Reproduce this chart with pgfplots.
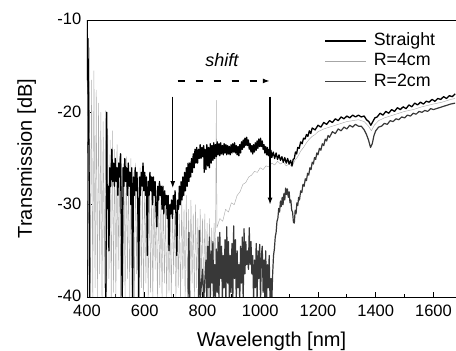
\documentclass[border=0pt]{standalone}
\usepackage{pgfplots}
\pgfplotsset{compat=1.18}
\usepackage{fontspec}
\setmainfont{Liberation Sans}
\usetikzlibrary{arrows.meta}
\begin{document}
\begin{tikzpicture}
\begin{axis}[
  name=ax,
  scale only axis,
  width=369pt, height=277pt,
  xmin=400, xmax=1678, ymin=-40, ymax=-10,
  axis x line*=box, axis y line*=left,
  x axis line style={-}, y axis line style={-},
  axis line style={line width=0.8pt},
  xtick pos=bottom, ytick pos=left,
  tick align=inside,
  xtick={400,600,...,1600},
  minor xtick={500,700,...,1700},
  ytick={-40,-30,-20,-10},
  major tick length=5pt, minor tick length=3pt,
  every tick/.style={black, line width=0.8pt},
  /pgf/number format/assume math mode=true,
  /pgf/number format/1000 sep={},
  tick label style={font=\fontsize{16.5}{18}\selectfont},
  xticklabel style={inner sep=1pt, yshift=-6.5pt},
  yticklabel style={inner sep=1pt, xshift=-4.5pt, yshift=1pt},
  label style={font=\fontsize{20}{24}\selectfont},
  xlabel={Wavelength [nm]},
  ylabel={Transmission [dB]},
  ylabel shift=17pt,
  xlabel shift=11pt,
  legend cell align=left,
  legend style={draw=none, fill=none, at={(0.6436,0.962)}, anchor=north west,
    font=\fontsize{17.8}{20}\selectfont, inner sep=0pt, row sep=0pt, column sep=5pt,
    nodes={inner sep=1.5pt, text height=13pt, text depth=4.5pt}},
  legend image code/.code={\draw[#1, line join=round] (0pt,0pt) -- (41pt,0pt);},
]
\addlegendimage{black, line width=1.6pt}
\addlegendentry{Straight}
\addlegendimage{black!35, line width=0.5pt}
\addlegendentry{R=4cm}
\addlegendimage{black!75, line width=1.0pt}
\addlegendentry{R=2cm}

% R=4cm (light gray)
\addplot[forget plot, black!32, line width=0.45pt, line join=round] coordinates {
(400,-11.0)(404,-40.5)(408,-13.0)(412,-38.5)(416,-16.5)(420,-40.5)(424,-15.5)(428,-39.0)
(432,-17.6)(436,-40.5)(440,-19.0)(444,-37.5)(448,-20.0)(452,-40.5)(456,-21.0)(460,-39.0)
(464,-19.8)(468,-40.5)(472,-22.5)(476,-38.0)(480,-23.0)(484,-40.5)(488,-22.0)(492,-39.5)
(496,-24.0)(500,-40.5)(504,-23.5)(508,-37.0)(512,-25.0)(516,-40.5)(520,-24.5)(524,-39.0)
(528,-25.5)(532,-40.5)(536,-24.8)(540,-38.0)(544,-26.0)(548,-40.5)(552,-25.0)(556,-39.5)
(560,-26.5)(564,-40.5)(568,-25.5)(572,-37.5)(576,-27.0)(580,-40.5)(584,-26.0)(588,-39.0)
(592,-27.5)(596,-40.5)(600,-26.5)(604,-38.5)(608,-28.0)(612,-40.5)(616,-27.0)(620,-39.5)
(624,-28.5)(628,-40.5)(632,-27.5)(636,-37.0)(640,-29.0)(644,-40.5)(648,-28.0)(652,-39.0)
(656,-29.5)(660,-40.5)(664,-28.5)(668,-38.5)(672,-30.0)(676,-40.5)(680,-29.0)(684,-39.5)
(688,-30.5)(692,-40.5)(696,-29.5)(700,-37.5)(704,-31.0)(708,-40.5)(712,-30.0)(716,-39.0)
(720,-31.0)(724,-40.5)(728,-29.5)(732,-38.0)(736,-30.5)(740,-40.5)(744,-29.0)(748,-39.5)
(752,-30.5)(756,-40.5)(760,-29.5)(764,-38.5)(768,-31.0)(772,-40.5)(776,-30.0)(780,-39.0)
(784,-31.5)(788,-40.5)(792,-30.5)(796,-38.0)(800,-31.5)(804,-40.5)(808,-31.0)(812,-39.5)
(816,-32.0)(820,-40.5)(824,-31.5)(828,-38.5)(832,-32.5)(836,-40.5)(840,-32.0)(844,-37.0)
(846,-30.0)(848,-18.7)(850,-32.5)(860,-31.5)(870,-31.8)(880,-30.5)(890,-30.8)(900,-29.8)
(910,-30.0)(920,-29.0)(930,-28.6)(940,-27.8)(950,-27.6)(960,-27.0)(970,-26.8)(980,-26.4)
(990,-26.5)(1000,-26.0)(1010,-26.2)(1020,-25.8)(1030,-25.9)(1040,-25.5)(1050,-25.7)
(1060,-25.3)(1070,-25.6)(1080,-25.4)(1090,-25.8)(1100,-25.6)(1110,-25.9)(1120,-25.2)
(1130,-24.8)(1140,-24.2)(1150,-23.8)(1160,-23.3)(1170,-22.9)(1180,-22.6)(1190,-22.4)
(1200,-22.1)(1220,-21.8)(1240,-21.6)(1260,-21.4)(1280,-21.2)(1300,-21.0)(1320,-20.9)
(1340,-20.8)(1360,-21.0)(1375,-21.5)(1385,-22.0)(1395,-21.4)(1410,-20.9)(1430,-20.6)
(1450,-20.4)(1480,-20.1)(1500,-19.9)(1530,-19.7)(1560,-19.4)(1600,-19.1)(1630,-18.9)
(1660,-18.6)(1675,-18.5)
};

% R=2cm (dark gray)
\addplot[forget plot, black!78, line width=1.2pt, line join=round] coordinates {
(400,-40.5)(750,-40.5)(753,-33.0)(756,-40.5)(786,-40.5)(789,-32.8)(792,-40.5)(800,-37.0)(804,-40.5)
(812,-36.0)(815,-40.5)(818,-34.5)(821,-39.0)(824,-33.5)(827,-40.5)(830,-35.0)(833,-38.5)
(836,-34.0)(839,-40.5)(842,-36.5)(845,-40.5)(848,-34.8)(851,-39.5)(854,-33.5)(857,-40.5)
(860,-33.0)(863,-38.0)(866,-34.5)(869,-40.5)(872,-35.5)(875,-39.0)(878,-33.8)(881,-40.5)
(884,-32.4)(887,-38.5)(890,-34.0)(893,-40.5)(896,-35.5)(899,-39.5)(902,-34.2)(905,-40.5)
(908,-32.3)(911,-38.0)(914,-33.8)(917,-40.5)(920,-35.0)(923,-39.0)(926,-36.5)(929,-40.5)
(932,-34.5)(935,-38.5)(938,-33.5)(941,-40.5)(944,-32.6)(947,-37.5)(950,-34.0)(953,-36.5)
(956,-35.0)(959,-37.0)(962,-32.5)(965,-36.5)(968,-34.0)(971,-37.5)(974,-35.5)(977,-40.5)
(980,-36.0)(983,-39.0)(986,-34.2)(989,-40.5)(992,-35.0)(995,-38.0)(998,-34.3)(1001,-40.5)
(1004,-35.5)(1007,-34.5)(1010,-39.5)(1013,-36.0)(1016,-40.5)(1019,-35.0)(1022,-40.5)
(1025,-36.5)(1028,-39.0)(1031,-35.5)(1034,-40.5)(1037,-38.0)(1040,-40.5)(1043,-37.5)
(1046,-35.5)(1049,-34.8)(1052,-33.5)(1055,-33.0)(1058,-31.8)(1061,-31.5)(1064,-30.4)
(1067,-30.8)(1070,-29.6)(1073,-30.2)(1076,-29.2)(1079,-30.0)(1082,-28.8)(1085,-29.5)
(1088,-28.2)(1091,-28.9)(1094,-28.3)(1097,-29.2)(1100,-28.6)(1103,-29.8)(1106,-29.5)
(1109,-30.6)(1112,-30.8)(1115,-31.9)(1118,-32.0)(1121,-30.6)(1124,-31.0)(1127,-29.8)
(1130,-30.1)(1133,-29.2)(1136,-29.5)(1140,-28.5)(1144,-28.7)(1148,-27.8)(1152,-28.0)
(1156,-27.2)(1160,-27.4)(1164,-26.6)(1168,-26.8)(1172,-26.0)(1176,-26.2)(1180,-25.4)
(1184,-25.6)(1188,-24.9)(1192,-25.1)(1196,-24.4)(1200,-24.6)(1205,-23.9)(1210,-24.1)
(1215,-23.4)(1220,-23.6)(1225,-22.9)(1230,-23.1)(1235,-22.5)(1240,-22.7)(1250,-22.1)
(1260,-22.3)(1270,-21.8)(1280,-22.0)(1290,-21.6)(1300,-21.8)(1310,-21.4)(1320,-21.6)
(1330,-21.3)(1340,-21.5)(1350,-21.5)(1360,-21.9)(1368,-22.4)(1375,-23.0)(1382,-23.8)
(1388,-23.4)(1394,-22.5)(1400,-22.0)(1410,-21.6)(1420,-21.5)(1430,-21.2)(1440,-21.3)
(1450,-20.9)(1460,-21.0)(1470,-20.7)(1480,-20.8)(1490,-20.5)(1500,-20.6)(1510,-20.3)
(1520,-20.4)(1530,-20.1)(1540,-20.2)(1550,-19.9)(1560,-20.0)(1570,-19.8)(1580,-19.9)
(1590,-19.6)(1600,-19.7)(1620,-19.5)(1640,-19.3)(1660,-19.1)(1675,-19.0)
};

% Straight (black)
\addplot[forget plot, black, line width=1.3pt, line join=round] coordinates {
(400,-10.0)(401.5,-16.5)(403,-12.0)(404.5,-16.0)(407,-25.0)(410,-41.0)(465,-41.0)
(467,-30.4)(468.5,-20.0)(470,-30.4)(473,-28.0)(476,-35.0)(479,-26.0)(482,-28.0)
(486,-24.0)(489,-27.5)(492,-25.5)(495,-28.0)(498,-25.0)(501,-27.5)(504,-26.0)(507,-29.0)
(510,-25.5)(513,-27.0)(516,-24.5)(519,-33.0)(522,-40.5)(525,-26.0)(528,-28.0)(531,-25.0)
(534,-27.5)(537,-26.0)(540,-29.0)(543,-25.5)(546,-28.0)(549,-26.5)(552,-30.0)(555,-26.0)
(558,-40.5)(561,-27.0)(564,-29.0)(567,-26.0)(570,-28.5)(573,-26.5)(576,-30.0)(579,-40.5)
(582,-27.0)(585,-29.0)(588,-26.5)(591,-28.0)(594,-25.5)(597,-28.5)(600,-26.5)(603,-29.0)
(606,-27.0)(609,-35.5)(612,-27.5)(615,-29.0)(618,-26.5)(621,-28.5)(624,-27.0)(627,-30.0)
(630,-27.0)(633,-29.0)(636,-27.5)(639,-30.5)(642,-32.4)(645,-28.0)(648,-29.5)(651,-27.5)
(654,-29.0)(657,-28.0)(660,-30.5)(663,-28.0)(666,-31.0)(669,-28.5)(672,-30.0)(675,-29.0)
(678,-31.5)(681,-29.0)(684,-35.0)(687,-30.0)(690,-31.0)(693,-29.5)(696,-31.5)(699,-29.0)
(702,-30.5)(705,-28.5)(708,-31.0)(711,-35.5)(714,-29.5)(717,-30.5)(720,-28.0)(723,-30.0)
(726,-27.5)(729,-29.5)(732,-27.0)(735,-29.0)(738,-26.5)(741,-28.5)(744,-26.0)(747,-28.0)
(750,-25.5)(753,-27.5)(756,-25.5)(759,-27.0)(762,-25.0)(765,-26.5)(768,-24.5)(771,-26.0)
(774,-24.0)(777,-25.5)(780,-23.8)(783,-25.5)(786,-24.0)(789,-25.0)(792,-23.5)(795,-25.0)
(798,-23.8)(801,-24.8)(804,-23.6)(806,-26.5)(809,-24.0)(812,-26.2)(815,-23.5)(818,-25.8)
(821,-23.8)(824,-26.0)(827,-23.4)(830,-25.5)(833,-23.6)(836,-25.2)(839,-23.3)(842,-25.0)
(845,-23.5)(848,-24.8)(851,-23.2)(854,-24.6)(857,-23.4)(860,-24.7)(863,-23.3)(866,-24.5)
(869,-23.6)(872,-24.6)(875,-23.4)(878,-24.4)(881,-23.5)(884,-24.6)(887,-23.6)(890,-24.5)
(893,-23.7)(896,-24.6)(899,-23.5)(902,-24.4)(905,-23.4)(908,-24.3)(911,-23.3)(914,-24.4)
(917,-23.6)(920,-24.6)(923,-23.7)(926,-24.7)(929,-23.5)(932,-24.4)(935,-23.2)(938,-24.0)
(941,-23.0)(944,-23.8)(947,-22.8)(950,-23.6)(953,-22.7)(956,-23.6)(959,-23.0)(962,-24.0)
(965,-23.4)(968,-24.3)(971,-23.6)(974,-24.5)(977,-23.5)(980,-24.3)(983,-23.3)(986,-24.1)
(989,-23.1)(992,-23.9)(995,-22.9)(998,-23.7)(1001,-22.8)(1004,-23.7)(1007,-23.1)(1010,-24.0)
(1013,-23.5)(1016,-24.4)(1019,-23.7)(1022,-24.6)(1025,-23.8)(1028,-24.7)(1031,-24.0)
(1034,-24.8)(1037,-24.1)(1040,-24.9)(1045,-24.3)(1050,-25.0)(1055,-24.4)(1060,-25.1)
(1065,-24.6)(1070,-25.2)(1075,-24.8)(1080,-25.4)(1085,-24.9)(1090,-25.5)(1095,-25.0)
(1100,-25.6)(1105,-25.2)(1110,-25.8)(1114,-25.1)(1118,-25.0)(1122,-24.3)(1126,-24.5)
(1130,-23.8)(1135,-23.9)(1140,-23.2)(1145,-23.4)(1150,-22.8)(1155,-22.9)(1160,-22.4)
(1165,-22.6)(1170,-22.0)(1175,-22.3)(1180,-21.7)(1190,-21.9)(1200,-21.4)(1210,-21.6)
(1220,-21.1)(1230,-21.3)(1240,-20.9)(1250,-21.1)(1260,-20.7)(1270,-20.9)(1280,-20.5)
(1290,-20.7)(1300,-20.4)(1310,-20.6)(1320,-20.3)(1330,-20.5)(1340,-20.3)(1350,-20.5)
(1360,-20.4)(1368,-20.8)(1376,-21.0)(1383,-21.4)(1390,-21.0)(1397,-20.6)(1405,-20.5)
(1415,-20.1)(1425,-20.3)(1435,-19.9)(1445,-20.1)(1455,-19.7)(1465,-19.9)(1475,-19.5)
(1485,-19.7)(1495,-19.4)(1505,-19.6)(1515,-19.2)(1525,-19.4)(1535,-19.0)(1545,-19.2)
(1555,-18.9)(1565,-19.1)(1575,-18.8)(1585,-18.9)(1595,-18.6)(1605,-18.8)(1615,-18.5)
(1625,-18.6)(1635,-18.3)(1645,-18.5)(1655,-18.2)(1665,-18.3)(1675,-18.0)
};

% annotations
\draw[line width=1.3pt, -{Latex[length=7pt,width=5pt]}] (axis cs:697,-18.3) -- (axis cs:697,-28.2);
\draw[line width=1.3pt, -{Latex[length=7pt,width=5pt]}] (axis cs:1034,-18.3) -- (axis cs:1034,-30.0);
\draw[line width=1.5pt, dash pattern=on 7pt off 11pt, -{Latex[length=7pt,width=5pt]}] (axis cs:714,-16.6) -- (axis cs:1033,-16.6);
\node[font=\fontsize{18}{20}\selectfont\itshape, anchor=base] at (axis cs:867,-15.06) {shift};
\end{axis}
\pgfresetboundingbox
\path[use as bounding box] ([shift={(-87pt,-54pt)}]ax.south west) rectangle ([shift={(0pt,20pt)}]ax.north east);
\end{tikzpicture}
\end{document}
